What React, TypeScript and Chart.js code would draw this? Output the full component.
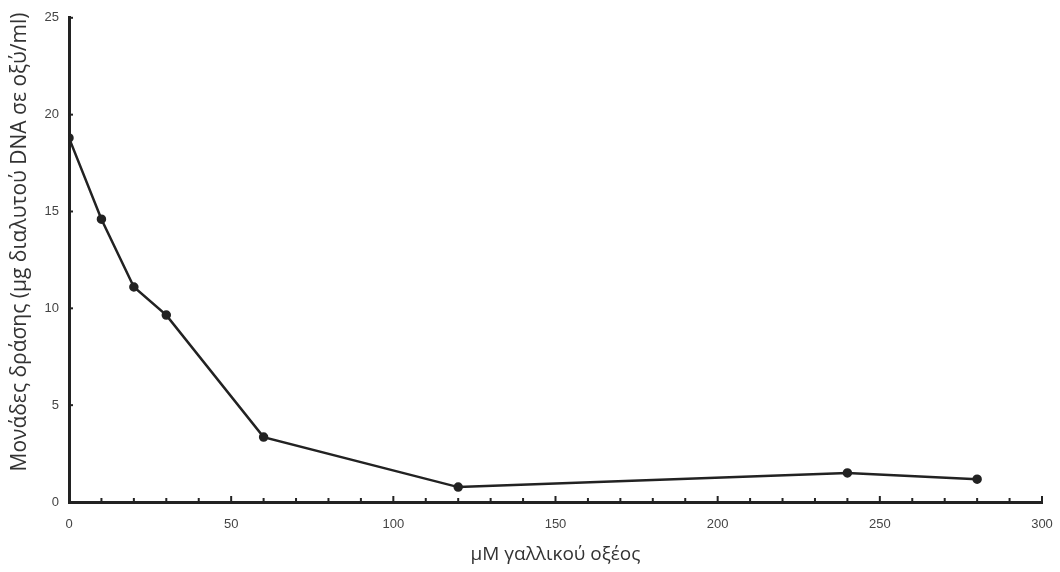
import React, { useEffect, useRef } from "react";
import { Chart, registerables } from "chart.js";

Chart.register(...registerables);

const concentrations = [0, 10, 20, 30, 60, 120, 240, 280];
const activityUnits = [18.8, 14.6, 11.1, 9.65, 3.35, 0.77, 1.5, 1.18];
const xTitle = "μM γαλλικού οξέος";
const yTitle = "Μονάδες δράσης (μg διαλυτού DNA σε οξύ/ml)";

const innerTicks = {
  id: "innerTicks",
  afterDatasetsDraw(chart: any) {
    const { ctx, scales } = chart;
    const x = scales.x;
    const y = scales.y;
    ctx.save();
    ctx.strokeStyle = "#222";
    ctx.lineWidth = 2;
    for (let v = 10; v <= 300; v += 10) {
      const px = x.getPixelForValue(v);
      const len = v % 50 === 0 ? 6 : 4;
      ctx.beginPath();
      ctx.moveTo(px, y.bottom);
      ctx.lineTo(px, y.bottom - len);
      ctx.stroke();
    }
    for (let v = 2.5; v <= 25; v += 2.5) {
      const py = y.getPixelForValue(v);
      const len = v % 5 === 0 ? 4 : 2;
      ctx.beginPath();
      ctx.moveTo(x.left, py);
      ctx.lineTo(x.left + len, py);
      ctx.stroke();
    }
    // y-axis title
    ctx.translate(20, 242);
    ctx.rotate(-Math.PI / 2);
    ctx.fillStyle = "#333";
    ctx.font = "21px 'Open Sans'";
    ctx.textAlign = "center";
    ctx.textBaseline = "middle";
    ctx.fillText(yTitle, 0, 0);
    ctx.restore();
  },
};

export default function App() {
  const ref = useRef<HTMLCanvasElement>(null);
  useEffect(() => {
    document.body.style.margin = "0";
    const chart = new Chart(ref.current!, {
      type: "line",
      data: {
        datasets: [
          {
            data: concentrations.map((c, i) => ({ x: c, y: activityUnits[i] })),
            borderColor: "#222",
            backgroundColor: "#222",
            borderWidth: 2.5,
            pointRadius: 3.5,
            pointHoverRadius: 3.5,
            tension: 0,
          },
        ],
      },
      options: {
        animation: false,
        responsive: false,
        maintainAspectRatio: false,
        layout: { padding: { left: 0, right: 18, top: 15, bottom: 0 } },
        plugins: { legend: { display: false }, tooltip: { enabled: false } },
        scales: {
          x: {
            type: "linear",
            min: 0,
            max: 300,
            afterFit: (s: any) => {
              s.height = 70;
              s.paddingRight = 0;
              s.paddingLeft = 0;
            },
            ticks: {
              stepSize: 50,
              padding: 15,
              color: "#444",
              font: { family: "Liberation Sans, Arial", size: 13 },
              maxRotation: 0,
            },
            grid: { display: true, drawOnChartArea: false, drawTicks: false },
            border: { display: true, color: "#222", width: 3 },
            title: {
              display: true,
              text: xTitle,
              color: "#333",
              font: { family: "Open Sans", size: 19 },
              padding: { top: 4, bottom: 6 },
            },
          },
          y: {
            type: "linear",
            min: 0,
            max: 25,
            afterFit: (s: any) => {
              s.width = 69;
            },
            ticks: {
              stepSize: 5,
              padding: 10,
              color: "#444",
              font: { family: "Liberation Sans, Arial", size: 13 },
            },
            grid: { display: true, drawOnChartArea: false, drawTicks: false },
            border: { display: true, color: "#222", width: 3 },
            title: { display: false },
          },
        },
      },
      plugins: [innerTicks],
    });
    return () => chart.destroy();
  }, []);
  return (
    <div style={{ position: "fixed", left: 0, top: 0, width: 1060, height: 572, background: "#fff" }}>
      <canvas ref={ref} width={1060} height={572} />
    </div>
  );
}
